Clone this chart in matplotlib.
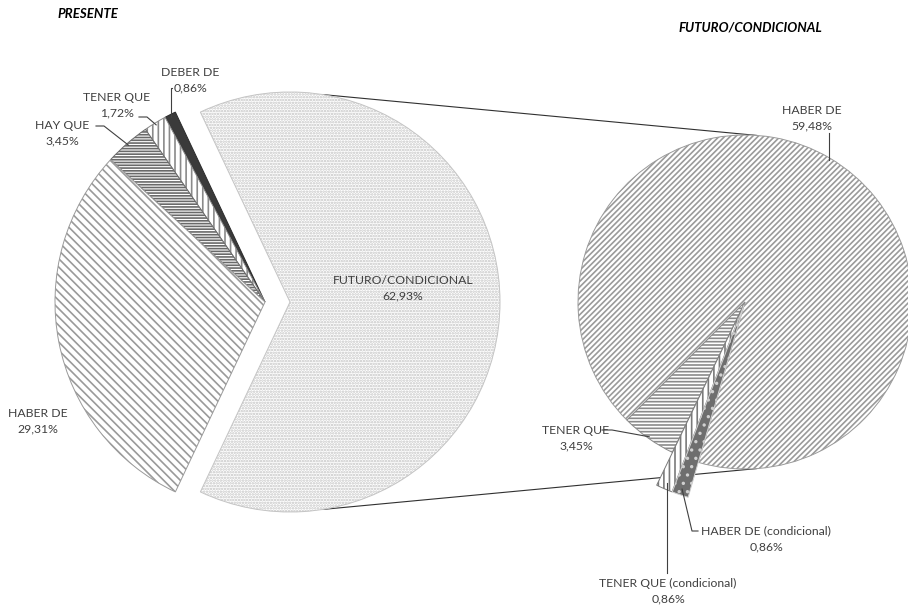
import numpy as np
import matplotlib
matplotlib.use("Agg")
import matplotlib.pyplot as plt

# datos del grafico principal (presente) y del secundario (futuro/condicional)
main_labels = ["FUTURO/CONDICIONAL", "DEBER DE", "TENER QUE", "HAY QUE", "HABER DE"]
main_values = [62.93, 0.86, 1.72, 3.45, 29.31]
sub_labels = ["HABER DE", "TENER QUE", "TENER QUE (condicional)", "HABER DE (condicional)"]
sub_values = [59.48, 3.45, 0.86, 0.86]

plt.rcParams['font.family'] = ['Lato', 'DejaVu Sans']
plt.rcParams['hatch.linewidth'] = 1.2
txt = '#404040'
W, H = 908, 611

fig = plt.figure(figsize=(W / 100, H / 100), dpi=100)
ax = fig.add_axes([0, 0, 1, 1])

def yy(y):
    # coordenadas de pixel con el origen arriba
    return H - y

# pastel izquierdo
c1 = (265, yy(302))
r1 = 210
ang1 = main_values[0] / sum(main_values) * 360
w1, _ = ax.pie(main_values, center=c1, radius=r1, startangle=-ang1 / 2,
               explode=[25, 0, 0, 0, 0], frame=True,
               wedgeprops=dict(linewidth=0.7))
styles1 = [('white', '#c4c4c4', '......'),
           ('#3a3a3a', '#2a2a2a', ''),
           ('white', '#8a8a8a', '|||'),
           ('white', '#6a6a6a', '------'),
           ('white', '#9a9a9a', '\\\\\\\\')]
for w, (fc, ec, h) in zip(w1, styles1):
    w.set_facecolor(fc)
    w.set_edgecolor(ec)
    w.set_hatch(h)

# pastel derecho
c2 = (745, yy(302))
r2 = 167
w2, _ = ax.pie(sub_values, center=c2, radius=r2, startangle=253.8,
               explode=[0, 0, 3, 3], frame=True,
               wedgeprops=dict(linewidth=0.7))
styles2 = [('white', '#9a9a9a', '//////'),
           ('white', '#8a8a8a', '-----'),
           ('white', '#7a7a7a', '|||'),
           ('#6e6e6e', '#d0d0d0', '..')]
for w, (fc, ec, h) in zip(w2, styles2):
    w.set_facecolor(fc)
    w.set_edgecolor(ec)
    w.set_hatch(h)
for w in w2[2:]:
    w.set_radius(r2 * 1.2)

def wedge_pt(w, frac=0.99):
    t = np.deg2rad((w.theta1 + w.theta2) / 2)
    cx, cy = w.center
    return cx + w.r * frac * np.cos(t), cy + w.r * frac * np.sin(t)

def edge_pt(w, ang):
    cx, cy = w.center
    t = np.deg2rad(ang)
    return cx + w.r * np.cos(t), cy + w.r * np.sin(t)

# lineas de union entre los dos pasteles
for a_left, a_right in [(81, 86), (-81, -86)]:
    p = edge_pt(w1[0], a_left)
    q = edge_pt(w2[0], a_right)
    ax.plot([p[0], q[0]], [p[1], q[1]], color='#303030', lw=0.8, zorder=0)

def label(w, vals, name, pos, anchor, elbow, frac=0.99):
    x, y = pos
    ax.text(x, yy(y), f"{name}\n{str(vals).replace('.', ',')}%", ha='center',
            va='center', fontsize=8.8, color=txt, linespacing=1.5)
    if anchor is None:
        return
    px, py = wedge_pt(w, frac)
    xs = [anchor[0]]
    ys = [yy(anchor[1])]
    if elbow is not None:
        xs.append(elbow[0] if elbow[0] is not None else px)
        ys.append(yy(elbow[1]))
    xs.append(px)
    ys.append(py)
    ax.plot(xs, ys, color=txt, lw=0.8)

v1 = dict(zip(main_labels, main_values))
v2 = dict(zip(sub_labels, sub_values))
label(w1[0], f"{v1['FUTURO/CONDICIONAL']:.2f}", "FUTURO/CONDICIONAL", (403, 288), None, None)
label(w1[1], f"{v1['DEBER DE']:.2f}", "DEBER DE", (190, 80), (172, 88), (None, 88))
label(w1[2], f"{v1['TENER QUE']:.2f}", "TENER QUE", (117, 105), (139, 117), (147, 117))
label(w1[3], f"{v1['HAY QUE']:.2f}", "HAY QUE", (62, 133), (96, 126), (104, 126))
label(w1[4], f"{v1['HABER DE']:.2f}", "HABER DE", (38, 421), (None, 400), None)

label(w2[0], f"{v2['HABER DE']:.2f}", "HABER DE", (812, 118), None, None)
hx, hy = wedge_pt(w2[0], 0.99)
ax.plot([hx, hx], [yy(133), hy], color=txt, lw=0.8)
label(w2[1], f"{v2['TENER QUE']:.2f}", "TENER QUE", (576, 438), (602, 430), (612, 430))
label(w2[3], f"{v2['HABER DE (condicional)']:.2f}", "HABER DE (condicional)", (766, 539), (698, 531), (692, 531), 0.97)
label(w2[2], f"{v2['TENER QUE (condicional)']:.2f}", "TENER QUE (condicional)", (668, 591), None, None, 0.97)
tx, ty = wedge_pt(w2[2], 0.97)
ax.plot([tx, tx], [yy(573), ty], color=txt, lw=0.8)

ax.text(57, yy(14), "PRESENTE", fontsize=9.5, fontweight='bold', style='italic',
        color='black', va='center')
ax.text(678, yy(27), "FUTURO/CONDICIONAL", fontsize=9.5, fontweight='bold',
        style='italic', color='black', va='center')

ax.set_xlim(0, W)
ax.set_ylim(0, H)
ax.set_aspect('equal')
ax.axis('off')

fig.savefig("out.png", dpi=100)
